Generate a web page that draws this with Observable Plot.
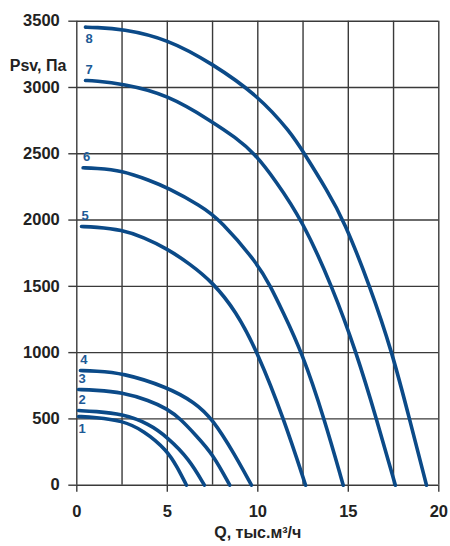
<!DOCTYPE html>
<html>
<head>
<meta charset="utf-8">
<script src="https://cdn.jsdelivr.net/npm/d3@7"></script>
<script src="https://cdn.jsdelivr.net/npm/@observablehq/plot@0.6"></script>
<style>
  body { margin: 0; background: #fff; }
  svg { font-family: "Liberation Sans", Arial, sans-serif; }
</style>
</head>
<body>
<div id="chart"></div>
<script>
// Fan performance curves: static pressure Psv (Pa) vs air flow Q (thousand m³/h)
const curveNames = ["1", "2", "3", "4", "5", "6", "7", "8"];

const q1 = [0.1, 1.0, 2.5, 3.7, 5.0, 5.55, 6.06];
const p1 = [518, 512, 488, 413, 262, 136, 0];

const q2 = [0.1, 1.0, 2.5, 4.0, 5.0, 6.2, 7.05];
const p2 = [563, 557, 538, 463, 362, 200, 0];

const q3 = [0.1, 1.0, 2.5, 4.0, 5.0, 5.73, 6.6, 7.5, 8.45];
const p3 = [722, 717, 702, 639, 576, 500, 373, 237, 0];

const q4 = [0.2, 1.0, 2.5, 5.0, 6.5, 7.5, 8.7, 9.65];
const p4 = [865, 861, 848, 740, 626, 500, 237, 0];

const q5 = [0.26, 1.0, 2.5, 3.67, 5.0, 6.24, 7.5, 8.77, 10.0, 11.44, 12.64];
const p5 = [1951, 1948, 1926, 1871, 1783, 1670, 1531, 1318, 1000, 500, 0];

const q6 = [0.35, 1.0, 2.5, 4.03, 5.0, 6.83, 7.94, 10.0, 10.7, 11.35, 12.45, 13.68, 14.72];
const p6 = [2394, 2391, 2374, 2298, 2245, 2110, 2000, 1670, 1500, 1318, 1000, 500, 0];

const q7 = [0.48, 1.0, 2.5, 5.0, 7.5, 8.75, 9.85, 10.98, 12.45, 14.11, 15.45, 16.56, 17.6];
const p7 = [3053, 3050, 3028, 2948, 2740, 2625, 2500, 2298, 2000, 1500, 1000, 500, 0];

const q8 = [0.48, 1.0, 2.5, 5.0, 7.5, 10.0, 11.8, 12.58, 13.83, 14.75, 16.2, 17.43, 18.38, 19.32];
const p8 = [3455, 3453, 3443, 3367, 3179, 2940, 2665, 2500, 2223, 2000, 1500, 1000, 500, 0];

const flows = [q1, q2, q3, q4, q5, q6, q7, q8];
const pressures = [p1, p2, p3, p4, p5, p6, p7, p8];

const xTicks = [0, 5, 10, 15, 20];
const xGrid = [0, 2.5, 5, 7.5, 10, 12.5, 15, 17.5, 20];
const yTicks = [0, 500, 1000, 1500, 2000, 2500, 3000, 3500];

const xLabel = "Q, тыс.м³/ч";
const yLabel = "Psv, Па";

// Long-format rows for the line mark
const rows = curveNames.flatMap((name, i) =>
  flows[i].map((q, j) => ({curve: name, q, p: pressures[i][j]}))
);
const starts = curveNames.map((name, i) => ({curve: name, q: flows[i][0], p: pressures[i][0]}));

// Numbers 1 and 8 sit under their curve, the rest above
const below = new Set(["1", "8"]);

const gridColor = "#3a3a3a";
const lineColor = "#0b4a88";
const numberColor = "#1d5a96";

const chart = Plot.plot({
  width: 450,
  height: 546,
  marginLeft: 76.3,
  marginRight: 11.7,
  marginTop: 20.7,
  marginBottom: 61.3,
  style: {
    fontFamily: "Liberation Sans, Arial, sans-serif",
    fontWeight: "bold",
    fontSize: "16px",
    color: "#222",
    background: "#fff"
  },
  x: {domain: [0, 20]},
  y: {domain: [0, 3500]},
  marks: [
    Plot.gridX(xGrid, {stroke: gridColor, strokeWidth: 1.4, strokeOpacity: 1}),
    Plot.gridY(yTicks, {stroke: gridColor, strokeWidth: 1.4, strokeOpacity: 1}),
    Plot.axisX(xTicks, {tickSize: 7, tickPadding: 13, stroke: gridColor, strokeWidth: 1.4, label: null, tickFormat: (d) => String(d), fontSize: 16.5, fontWeight: "bold"}),
    Plot.axisY(yTicks, {tickSize: 8, tickPadding: 9, stroke: gridColor, strokeWidth: 1.4, label: null, tickFormat: (d) => String(d), fontSize: 16.5, fontWeight: "bold"}),
    // B-spline smoothing through the read-off points
    Plot.line(rows, {x: "q", y: "p", z: "curve", stroke: lineColor, strokeWidth: 3.6, curve: "basis"}),
    Plot.text(starts.filter((d) => below.has(d.curve)), {
      x: "q", y: "p", text: "curve", dx: 3.5, dy: 12,
      fill: numberColor, fontSize: 13, fontWeight: "bold"
    }),
    Plot.text(starts.filter((d) => !below.has(d.curve)), {
      x: "q", y: "p", text: "curve", dx: 3.5, dy: -11,
      fill: numberColor, fontSize: 13, fontWeight: "bold"
    }),
    Plot.text([yLabel], {
      frameAnchor: "top-left", dx: -10.5, dy: 38, textAnchor: "end",
      fontSize: 16, fontWeight: "bold", fill: "#222"
    }),
    Plot.text([xLabel], {
      frameAnchor: "bottom", dy: 52.5,
      fontSize: 16, fontWeight: "bold", fill: "#222"
    })
  ]
});

document.getElementById("chart").appendChild(chart);
</script>
</body>
</html>
